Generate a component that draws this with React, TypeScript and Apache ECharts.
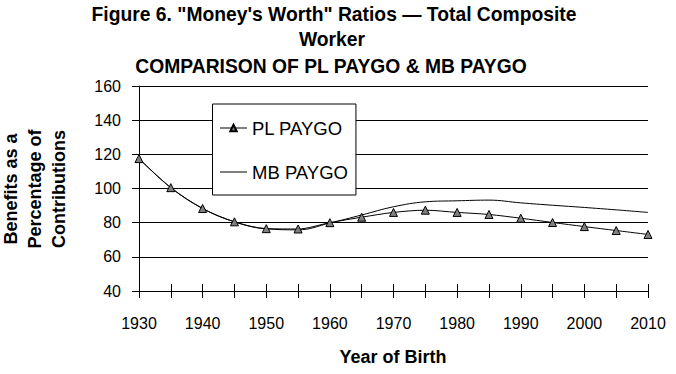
import React, { useEffect, useRef } from "react";
import * as echarts from "echarts";

const years = [1930, 1935, 1940, 1945, 1950, 1955, 1960, 1965, 1970, 1975, 1980, 1985, 1990, 1995, 2000, 2005, 2010];
const plPaygo = [117.5, 100.5, 88.3, 80.5, 76.5, 76.3, 80, 83.2, 86, 87.3, 86, 84.8, 82.6, 80.1, 77.7, 75.4, 73.1];
const mbPaygo = [117.5, 100.5, 88.3, 80.5, 76.4, 75.8, 79.8, 84.5, 89.3, 92.2, 92.8, 93.2, 91.6, 90.2, 88.9, 87.5, 86];
const xTickLabels = ["1930", "1940", "1950", "1960", "1970", "1980", "1990", "2000", "2010"];
const seriesNames = ["PL PAYGO", "MB PAYGO"];
const titleLines = ["Figure 6. \"Money's Worth\" Ratios \u2014 Total Composite", "Worker", "COMPARISON OF PL PAYGO & MB PAYGO"];
const yAxisName = ["Benefits as a", "Percentage of", "Contributions"];
const xAxisName = "Year of Birth";

const FONT = "'Liberation Sans', Arial, Helvetica, sans-serif";

export default function App() {
  const ref = useRef<HTMLDivElement>(null);
  useEffect(() => {
    if (!ref.current) return;
    const chart = echarts.init(ref.current, null, { renderer: "svg" });
    const baseAxis = {
      type: "value" as const,
      min: 1930,
      max: 2010,
      interval: 5,
    };
    const titleFont = `bold 19.3px ${FONT}`;
    chart.setOption({
      animation: false,
      backgroundColor: "#fff",
      textStyle: { fontFamily: FONT },
      grid: { left: 139, right: 28, top: 86, bottom: 83, containLabel: false },
      graphic: [
        { type: "text", x: 334, y: 14, style: { text: titleLines[0], align: "center", verticalAlign: "middle", font: titleFont, fill: "#000" } },
        { type: "text", x: 332, y: 39, style: { text: titleLines[1], align: "center", verticalAlign: "middle", font: titleFont, fill: "#000" } },
        { type: "text", x: 331, y: 66, style: { text: titleLines[2], align: "center", verticalAlign: "middle", font: titleFont, fill: "#000" } },
        { type: "text", x: 35, y: 189, rotation: Math.PI / 2, style: { text: yAxisName.join("\n"), align: "center", verticalAlign: "middle", lineHeight: 24, font: `bold 18px ${FONT}`, fill: "#000" } },
        { type: "text", x: 393, y: 357, style: { text: xAxisName, align: "center", verticalAlign: "middle", font: `bold 18px ${FONT}`, fill: "#000" } },
      ],
      legend: {
        orient: "vertical",
        left: 212.5,
        top: 104,
        data: [
          { name: seriesNames[0], lineStyle: { width: 1, color: "#000" } },
          { name: seriesNames[1], lineStyle: { width: 1, color: "#000" }, itemStyle: { opacity: 0 } },
        ],
        itemWidth: 27,
        itemHeight: 8,
        itemGap: 24,
        padding: [14, 8, 13, 7],
        backgroundColor: "#fff",
        borderColor: "#000",
        borderWidth: 1,
        borderRadius: 0,
        textStyle: { fontSize: 18.5, color: "#000", fontFamily: FONT, lineHeight: 20 },
      },
      xAxis: [
        {
          ...baseAxis,
          position: "bottom",
          axisLine: { show: true, lineStyle: { color: "#000", width: 1 } },
          axisTick: { show: true, length: 7, inside: false, lineStyle: { color: "#000", width: 1 } },
          axisLabel: {
            show: true,
            margin: 24,
            fontSize: 16,
            color: "#000",
            fontFamily: FONT,
            formatter: (v: number) => (xTickLabels.includes(String(v)) ? String(v) : ""),
          },
          splitLine: { show: false },
        },
        {
          ...baseAxis,
          position: "bottom",
          axisLine: { show: false },
          axisTick: { show: true, length: 7, inside: true, lineStyle: { color: "#000", width: 1 } },
          axisLabel: { show: false },
          splitLine: { show: false },
        },
      ],
      yAxis: {
        type: "value",
        min: 40,
        max: 160,
        interval: 20,
        axisLine: { show: true, lineStyle: { color: "#000", width: 1 } },
        axisTick: { show: true, length: 7, inside: false, lineStyle: { color: "#000", width: 1 } },
        axisLabel: { margin: 18, fontSize: 16, color: "#000", fontFamily: FONT },
        splitLine: { show: true, lineStyle: { color: "#000", width: 1 } },
      },
      series: [
        {
          name: seriesNames[0],
          type: "line",
          xAxisIndex: 0,
          data: years.map((y, i) => [y, plPaygo[i]]),
          symbol: "triangle",
          symbolSize: 8,
          showSymbol: true,
          smooth: 0.3,
          lineStyle: { color: "#000", width: 1 },
          itemStyle: { color: "#808080", borderColor: "#000", borderWidth: 1 },
          z: 3,
        },
        {
          name: seriesNames[1],
          type: "line",
          xAxisIndex: 0,
          data: years.map((y, i) => [y, mbPaygo[i]]),
          symbol: "none",
          showSymbol: false,
          smooth: 0.4,
          lineStyle: { color: "#000", width: 1 },
          itemStyle: { color: "#000" },
          z: 2,
        },
      ],
    });
    return () => chart.dispose();
  }, []);
  return (
    <div
      ref={ref}
      style={{ position: "fixed", left: 0, top: 0, width: 676, height: 374, background: "#fff" }}
    />
  );
}
